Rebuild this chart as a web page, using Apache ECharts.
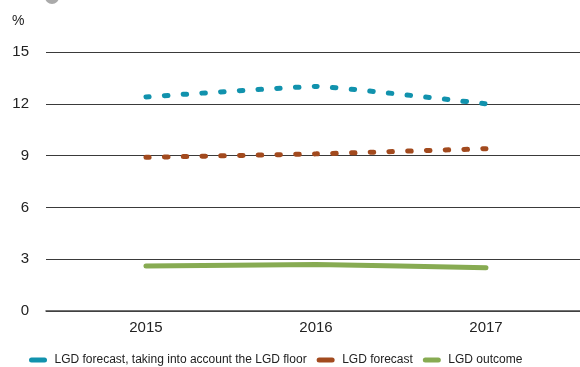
<!DOCTYPE html>
<html>
<head>
<meta charset="utf-8">
<script src="https://cdn.jsdelivr.net/npm/echarts@6/dist/echarts.min.js"></script>
<style>
  html, body { margin: 0; padding: 0; background: #fff; }
  #chart { width: 580px; height: 367px; }
</style>
</head>
<body>
<div id="chart"></div>
<script>
// Years on the x axis
const years = [2015, 2016, 2017];
// LGD series, in percent
const lgdForecastFloor = [12.4, 13.0, 12.0];
const lgdForecast = [8.9, 9.1, 9.4];
const lgdOutcome = [2.6, 2.7, 2.5];
// Y axis ticks
const yTicks = [0, 3, 6, 9, 12, 15];

const seriesNames = [
  'LGD forecast, taking into account the LGD floor',
  'LGD forecast',
  'LGD outcome'
];
const colors = ['#1192ad', '#a24a1e', '#87ab52'];

const pairs = vals => years.map((y, i) => [y, vals[i]]);
const capsule = 'path://M2.5,0 H15.5 A2.5,2.5 0 0 1 15.5,5 H2.5 A2.5,2.5 0 0 1 2.5,0 Z';
const dotted = [3.5, 15.2];

const chart = echarts.init(document.getElementById('chart'), null, { renderer: 'canvas' });
chart.setOption({
  animation: false,
  textStyle: { fontFamily: 'Liberation Sans, Arial, sans-serif' },
  grid: { left: 46, right: 0, top: 52, bottom: 56 },
  graphic: [
    { type: 'circle', left: 45, top: -10, shape: { r: 7 }, style: { fill: '#aaa' } },
    { type: 'text', left: 12, top: 14, style: { text: '%', fill: '#222', font: '14px Liberation Sans, Arial, sans-serif' } }
  ],
  xAxis: {
    type: 'value',
    min: 2014.412,
    max: 2017.553,
    splitLine: { show: false },
    axisTick: { show: false },
    axisLine: { show: true, lineStyle: { color: '#444', width: 1.5 } },
    axisLabel: {
      customValues: years,
      formatter: v => String(v),
      color: '#222', fontSize: 15, margin: 9
    }
  },
  yAxis: {
    type: 'value',
    min: yTicks[0],
    max: yTicks[yTicks.length - 1],
    interval: 3,
    axisLine: { show: false },
    axisTick: { show: false },
    axisLabel: { color: '#222', fontSize: 15, margin: 17 },
    splitLine: { lineStyle: { color: '#3a3a3a', width: 1 } }
  },
  legend: {
    left: 24,
    bottom: -4,
    width: 900,
    itemGap: 10,
    itemWidth: 19,
    itemHeight: 5,
    textStyle: { color: '#222', fontSize: 12, padding: [0, 0, 0, 2] },
    data: seriesNames.map((n, i) => ({ name: n, icon: capsule, itemStyle: { color: colors[i] } }))
  },
  series: [
    {
      name: seriesNames[0], type: 'line', smooth: 0.12, showSymbol: false,
      data: pairs(lgdForecastFloor),
      lineStyle: { color: colors[0], width: 5, type: dotted, cap: 'round' },
      itemStyle: { color: colors[0] }
    },
    {
      name: seriesNames[1], type: 'line', smooth: 0.12, showSymbol: false,
      data: pairs(lgdForecast),
      lineStyle: { color: colors[1], width: 5, type: dotted, cap: 'round' },
      itemStyle: { color: colors[1] }
    },
    {
      name: seriesNames[2], type: 'line', smooth: 0.12, showSymbol: false,
      data: pairs(lgdOutcome),
      lineStyle: { color: colors[2], width: 5, cap: 'round' },
      itemStyle: { color: colors[2] }
    }
  ]
});
</script>
</body>
</html>
